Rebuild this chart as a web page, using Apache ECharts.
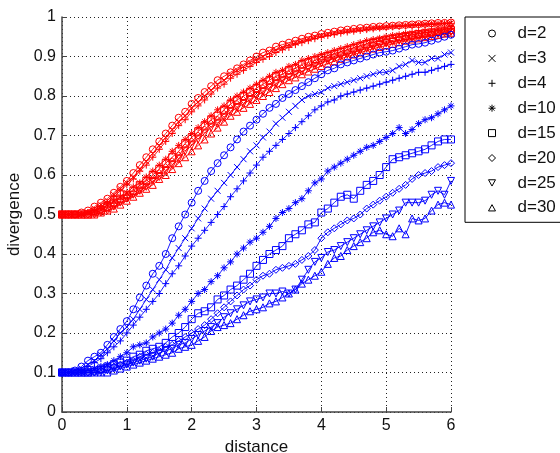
<!DOCTYPE html>
<html><head><meta charset="utf-8">
<script src="https://cdn.jsdelivr.net/npm/echarts@6/dist/echarts.min.js"></script>
<style>html,body{margin:0;padding:0;background:#fff}#c{width:560px;height:453px}</style>
</head><body><div id="c"></div>
<script>
// x positions (distance), step 0.1 from 0 to 6
const distance = [0,0.1,0.2,0.3,0.4,0.5,0.6,0.7,0.8,0.9,1,1.1,1.2,1.3,1.4,1.5,1.6,1.7,1.8,1.9,2,2.1,2.2,2.3,2.4,2.5,2.6,2.7,2.8,2.9,3,3.1,3.2,3.3,3.4,3.5,3.6,3.7,3.8,3.9,4,4.1,4.2,4.3,4.4,4.5,4.6,4.7,4.8,4.9,5,5.1,5.2,5.3,5.4,5.5,5.6,5.7,5.8,5.9,6];
const legendNames = ['d=2','d=3','d=4','d=10','d=15','d=20','d=25','d=30'];
const xTicks = [0,1,2,3,4,5,6];
const yTicks = [0,0.1,0.2,0.3,0.4,0.5,0.6,0.7,0.8,0.9,1];

// red curves
const red_d2 = [0.50,0.50,0.50,0.505,0.51,0.52,0.53,0.54,0.555,0.57,0.585,0.605,0.625,0.645,0.665,0.685,0.705,0.725,0.745,0.76,0.78,0.795,0.81,0.825,0.84,0.85,0.86,0.87,0.88,0.89,0.90,0.91,0.915,0.925,0.93,0.935,0.94,0.945,0.95,0.953,0.957,0.96,0.963,0.966,0.968,0.97,0.972,0.973,0.975,0.976,0.977,0.978,0.979,0.98,0.981,0.982,0.983,0.984,0.985,0.985,0.986];
const red_d3 = [0.50,0.50,0.50,0.50,0.505,0.515,0.525,0.535,0.55,0.565,0.58,0.595,0.615,0.635,0.655,0.675,0.695,0.715,0.735,0.75,0.77,0.785,0.80,0.815,0.83,0.84,0.855,0.865,0.875,0.885,0.893,0.90,0.91,0.917,0.923,0.93,0.935,0.94,0.945,0.95,0.953,0.957,0.96,0.963,0.965,0.967,0.969,0.971,0.973,0.974,0.975,0.977,0.978,0.979,0.98,0.981,0.982,0.983,0.983,0.984,0.985];
const red_d4 = [0.50,0.50,0.50,0.50,0.505,0.51,0.52,0.53,0.545,0.56,0.575,0.59,0.61,0.625,0.645,0.665,0.685,0.705,0.725,0.74,0.76,0.775,0.79,0.805,0.82,0.83,0.845,0.855,0.865,0.875,0.885,0.893,0.90,0.91,0.917,0.923,0.93,0.935,0.94,0.945,0.949,0.953,0.956,0.959,0.962,0.964,0.966,0.968,0.97,0.972,0.973,0.975,0.976,0.977,0.978,0.979,0.98,0.981,0.982,0.983,0.984];
const red_d10 = [0.50,0.50,0.50,0.50,0.505,0.51,0.515,0.525,0.535,0.545,0.555,0.57,0.58,0.595,0.61,0.625,0.64,0.66,0.675,0.69,0.705,0.72,0.735,0.75,0.765,0.775,0.79,0.80,0.81,0.82,0.83,0.84,0.85,0.86,0.865,0.875,0.88,0.89,0.895,0.90,0.905,0.91,0.915,0.92,0.925,0.93,0.935,0.94,0.943,0.946,0.95,0.953,0.955,0.958,0.96,0.962,0.965,0.967,0.969,0.97,0.972];
const red_d15 = [0.50,0.50,0.50,0.50,0.50,0.505,0.51,0.52,0.53,0.54,0.55,0.56,0.575,0.585,0.60,0.615,0.63,0.645,0.66,0.68,0.695,0.71,0.725,0.74,0.75,0.765,0.78,0.79,0.80,0.81,0.82,0.83,0.84,0.85,0.855,0.865,0.87,0.88,0.885,0.89,0.897,0.902,0.907,0.912,0.917,0.922,0.927,0.932,0.936,0.94,0.943,0.946,0.949,0.952,0.954,0.957,0.959,0.961,0.963,0.965,0.967];
const red_d20 = [0.50,0.50,0.50,0.50,0.50,0.505,0.51,0.515,0.525,0.535,0.545,0.555,0.565,0.58,0.59,0.605,0.62,0.635,0.65,0.67,0.685,0.70,0.715,0.73,0.74,0.755,0.77,0.78,0.79,0.80,0.81,0.82,0.83,0.84,0.847,0.855,0.862,0.87,0.876,0.882,0.89,0.895,0.90,0.905,0.91,0.915,0.92,0.925,0.93,0.934,0.938,0.941,0.944,0.947,0.95,0.953,0.955,0.957,0.96,0.962,0.965];
const red_d25 = [0.50,0.50,0.50,0.50,0.50,0.50,0.505,0.51,0.52,0.53,0.54,0.55,0.56,0.57,0.585,0.595,0.61,0.625,0.64,0.66,0.675,0.69,0.705,0.72,0.73,0.745,0.76,0.77,0.78,0.79,0.80,0.81,0.82,0.83,0.84,0.847,0.855,0.862,0.87,0.876,0.883,0.889,0.895,0.90,0.905,0.91,0.915,0.92,0.925,0.929,0.933,0.937,0.94,0.943,0.946,0.949,0.952,0.954,0.957,0.96,0.962];
const red_d30 = [0.50,0.50,0.50,0.50,0.50,0.50,0.505,0.51,0.515,0.525,0.535,0.545,0.555,0.565,0.575,0.59,0.60,0.615,0.63,0.645,0.66,0.675,0.69,0.705,0.72,0.735,0.75,0.76,0.77,0.78,0.79,0.80,0.81,0.82,0.83,0.84,0.847,0.855,0.862,0.869,0.876,0.882,0.888,0.894,0.90,0.905,0.91,0.915,0.92,0.924,0.928,0.932,0.936,0.94,0.943,0.946,0.949,0.952,0.955,0.958,0.96];

// blue curves
const blue_d2 = [0.10,0.10,0.105,0.115,0.13,0.14,0.15,0.17,0.19,0.21,0.23,0.26,0.29,0.32,0.35,0.37,0.40,0.44,0.47,0.50,0.53,0.56,0.585,0.61,0.63,0.65,0.67,0.69,0.71,0.725,0.74,0.755,0.77,0.78,0.795,0.805,0.815,0.825,0.835,0.845,0.855,0.865,0.87,0.88,0.885,0.89,0.895,0.90,0.905,0.91,0.912,0.915,0.92,0.925,0.93,0.932,0.935,0.94,0.945,0.95,0.955];
const blue_d3 = [0.10,0.10,0.105,0.11,0.12,0.13,0.145,0.16,0.18,0.20,0.215,0.235,0.26,0.285,0.31,0.335,0.36,0.39,0.415,0.44,0.465,0.49,0.515,0.54,0.56,0.58,0.60,0.62,0.64,0.66,0.675,0.695,0.71,0.73,0.745,0.76,0.775,0.79,0.80,0.805,0.81,0.82,0.825,0.83,0.835,0.84,0.845,0.85,0.855,0.86,0.86,0.865,0.875,0.88,0.89,0.885,0.885,0.895,0.895,0.905,0.91];
const blue_d4 = [0.10,0.10,0.10,0.105,0.115,0.125,0.135,0.15,0.165,0.18,0.20,0.22,0.24,0.26,0.28,0.30,0.325,0.35,0.37,0.395,0.42,0.44,0.46,0.48,0.50,0.52,0.545,0.565,0.585,0.605,0.625,0.645,0.66,0.675,0.69,0.705,0.72,0.735,0.75,0.765,0.775,0.785,0.79,0.80,0.805,0.81,0.815,0.82,0.825,0.83,0.835,0.84,0.845,0.85,0.855,0.86,0.86,0.865,0.87,0.875,0.88];
const blue_d10 = [0.10,0.10,0.10,0.10,0.105,0.11,0.115,0.12,0.13,0.14,0.15,0.165,0.17,0.175,0.19,0.20,0.21,0.225,0.245,0.26,0.28,0.30,0.31,0.33,0.345,0.365,0.38,0.40,0.415,0.43,0.44,0.455,0.47,0.49,0.505,0.515,0.53,0.54,0.56,0.58,0.59,0.61,0.62,0.63,0.64,0.65,0.66,0.67,0.675,0.685,0.695,0.705,0.72,0.705,0.715,0.73,0.74,0.745,0.755,0.765,0.775];
const blue_d15 = [0.10,0.10,0.10,0.10,0.10,0.105,0.11,0.115,0.12,0.125,0.13,0.14,0.145,0.155,0.16,0.165,0.175,0.19,0.20,0.215,0.235,0.25,0.255,0.265,0.285,0.295,0.31,0.32,0.335,0.35,0.37,0.385,0.40,0.41,0.42,0.44,0.45,0.46,0.475,0.48,0.505,0.515,0.53,0.545,0.55,0.54,0.56,0.575,0.585,0.60,0.62,0.64,0.645,0.65,0.655,0.66,0.665,0.675,0.685,0.69,0.69];
const blue_d20 = [0.10,0.10,0.10,0.10,0.10,0.10,0.105,0.11,0.115,0.12,0.125,0.13,0.14,0.145,0.15,0.155,0.165,0.17,0.18,0.19,0.20,0.21,0.22,0.235,0.25,0.265,0.28,0.295,0.31,0.32,0.335,0.345,0.35,0.36,0.365,0.37,0.375,0.385,0.395,0.41,0.44,0.455,0.465,0.475,0.485,0.49,0.50,0.515,0.525,0.535,0.545,0.555,0.565,0.575,0.59,0.60,0.605,0.61,0.62,0.625,0.63];
const blue_d25 = [0.10,0.10,0.10,0.10,0.10,0.10,0.10,0.105,0.11,0.115,0.12,0.125,0.13,0.135,0.14,0.15,0.155,0.16,0.17,0.175,0.185,0.195,0.205,0.215,0.225,0.24,0.25,0.26,0.27,0.28,0.285,0.29,0.30,0.30,0.305,0.30,0.31,0.335,0.36,0.38,0.39,0.405,0.41,0.42,0.43,0.44,0.45,0.46,0.47,0.48,0.49,0.50,0.51,0.53,0.53,0.53,0.535,0.55,0.56,0.55,0.585];
const blue_d30 = [0.10,0.10,0.10,0.10,0.10,0.10,0.10,0.10,0.105,0.11,0.115,0.12,0.125,0.13,0.135,0.14,0.145,0.15,0.16,0.165,0.17,0.18,0.19,0.205,0.215,0.22,0.225,0.235,0.245,0.255,0.26,0.265,0.275,0.28,0.29,0.30,0.31,0.325,0.335,0.345,0.355,0.375,0.39,0.395,0.41,0.42,0.43,0.44,0.455,0.46,0.45,0.445,0.465,0.45,0.49,0.485,0.49,0.51,0.525,0.53,0.525];

const redSets = [red_d2, red_d3, red_d4, red_d10, red_d15, red_d20, red_d25, red_d30];
const blueSets = [blue_d2, blue_d3, blue_d4, blue_d10, blue_d15, blue_d20, blue_d25, blue_d30];

const markers = [
  'circle',
  'path://M0,0L10,10M10,0L0,10',
  'path://M5,0L5,10M0,5L10,5',
  'path://M5,0L5,10M0,5L10,5M1.5,1.5L8.5,8.5M8.5,1.5L1.5,8.5',
  'rect',
  'diamond',
  'path://M0,0L10,0L5,9Z',
  'path://M5,0L10,9L0,9Z'
];
const markerSizes = [7,6,7,7,7,7,7,7];

function mk(name, vals, color, i) {
  return {
    type: 'line', name: name,
    data: distance.map((x, k) => [x, vals[k]]),
    symbol: markers[i], symbolSize: markerSizes[i], showAllSymbol: true,
    lineStyle: { color: color, width: 0.9 },
    itemStyle: { color: 'rgba(0,0,0,0)', borderColor: color, borderWidth: 1 },
    emphasis: { disabled: true },
    z: 2
  };
}
const series = [];
redSets.forEach((v, i) => series.push(mk(legendNames[i], v, '#ff0000', i)));
blueSets.forEach((v, i) => series.push(mk(legendNames[i], v, '#0000ff', i)));

const font = 'Liberation Sans, Arial, sans-serif';
const chart = echarts.init(document.getElementById('c'), null, { renderer: 'canvas' });
chart.setOption({
  animation: false,
  backgroundColor: '#fff',
  grid: { left: 62, top: 17, right: 109, bottom: 41, containLabel: false, outerBoundsMode: 'none' },
  legend: {
    orient: 'vertical', left: 465, top: 17,
    padding: [8, 8, 6, 23],
    itemWidth: 7, itemHeight: 7, itemGap: 7.9,
    borderColor: '#000', borderWidth: 1, backgroundColor: '#fff',
    selectedMode: false,
    textStyle: { fontFamily: font, fontSize: 17, lineHeight: 17, color: '#111', padding: [0, 0, 0, 17] },
    data: legendNames.map((n, i) => ({
      name: n, icon: markers[i],
      itemStyle: { color: 'rgba(0,0,0,0)', borderColor: '#000', borderWidth: 1 }
    }))
  },
  xAxis: {
    type: 'value', min: 0, max: 6, interval: 1,
    name: 'distance', nameLocation: 'middle', nameGap: 21,
    nameTextStyle: { fontFamily: font, fontSize: 17, color: '#111' },
    axisLine: { show: true, onZero: false, lineStyle: { color: '#444', width: 1.5 } },
    axisTick: { show: true, inside: true, length: 5, lineStyle: { color: '#444' } },
    axisLabel: { fontFamily: font, fontSize: 16, color: '#111', margin: 6,
      formatter: v => xTicks.includes(v) ? String(v) : '' },
    splitLine: { show: true, lineStyle: { color: '#222', width: 1, type: [1, 3] } }
  },
  yAxis: {
    type: 'value', min: 0, max: 1, interval: 0.1,
    name: 'divergence', nameLocation: 'middle', nameGap: 27,
    nameTextStyle: { fontFamily: font, fontSize: 17, color: '#111' },
    axisLine: { show: true, onZero: false, lineStyle: { color: '#444', width: 1.5 } },
    axisTick: { show: true, inside: true, length: 5, lineStyle: { color: '#444' } },
    axisLabel: { fontFamily: font, fontSize: 16, color: '#111', margin: 6,
      formatter: v => { const t = yTicks.find(a => Math.abs(a - v) < 1e-6); return t === undefined ? '' : String(t); } },
    splitLine: { show: true, lineStyle: { color: '#222', width: 1, type: [1, 3] } }
  },
  series: series
});
</script></body></html>
